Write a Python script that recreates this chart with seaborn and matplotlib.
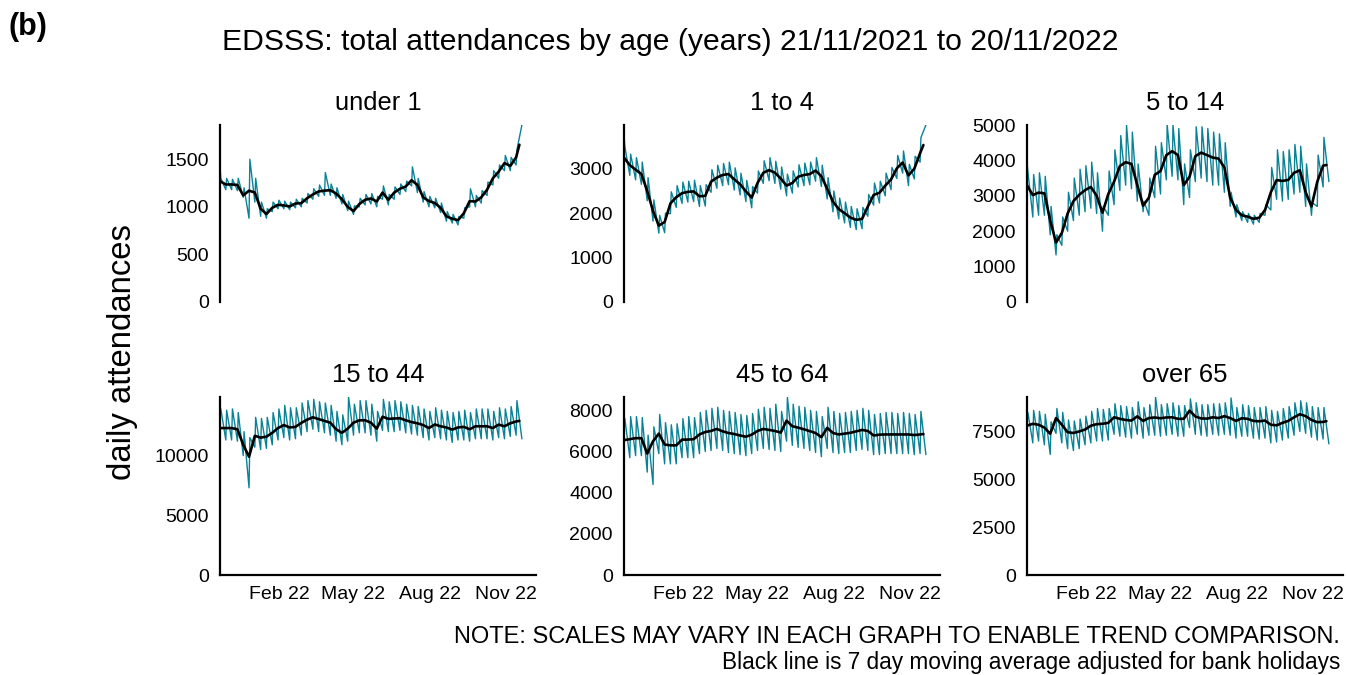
import numpy as np
import pandas as pd
import matplotlib
matplotlib.use("Agg")
import matplotlib.pyplot as plt
import matplotlib.dates as mdates
import seaborn as sns

# ---------------- data ----------------
panel_names = ["under 1", "1 to 4", "5 to 14", "15 to 44", "45 to 64", "over 65"]
start_date = "2021-11-21"
end_date = "2022-11-20"

# 7-day moving average, weekly readings (52 weekly + final point)
u1_avg = [1270, 1235, 1235, 1230, 1120, 1170, 1150, 980, 925, 990,
          1021, 1015, 1004, 1035, 1039, 1090, 1130, 1162, 1170, 1175,
          1140, 1080, 1000, 955, 1030, 1074, 1088, 1056, 1150, 1074,
          1150, 1190, 1214, 1280, 1230, 1100, 1060, 1040, 990, 900,
          875, 860, 933, 1060, 1056, 1100, 1180, 1300, 1370, 1460,
          1430, 1520, 1653]
a1_4_avg = [3250, 3080, 2980, 2880, 2500, 2050, 1720, 1800, 2220, 2360,
            2450, 2480, 2490, 2380, 2390, 2710, 2800, 2860, 2880, 2760,
            2650, 2490, 2350, 2680, 2910, 2970, 2910, 2780, 2620, 2680,
            2820, 2860, 2880, 2960, 2830, 2550, 2260, 2090, 2000, 1900,
            1850, 1870, 2150, 2410, 2460, 2620, 2760, 3010, 3140, 2850,
            3000, 3350, 3535]
a5_14_avg = [3300, 3020, 3090, 3070, 2300, 1680, 1950, 2500, 2850, 3030,
             3160, 3250, 3000, 2520, 3050, 3400, 3840, 3950, 3900, 3300,
             2720, 2950, 3590, 3700, 4150, 4260, 4150, 3300, 3540, 4120,
             4220, 4150, 4080, 4050, 3800, 2950, 2600, 2450, 2410, 2350,
             2380, 2600, 3100, 3445, 3420, 3450, 3650, 3720, 3100, 2700,
             3400, 3850, 3870]
a15_44_avg = [12300, 12300, 12300, 12200, 10900, 9900, 11650, 11500, 11580, 11900,
              12300, 12550, 12350, 12400, 12730, 13000, 13200, 13050, 12900, 12750,
              12200, 11900, 12250, 12750, 12950, 12950, 12750, 12250, 13250, 13070,
              13100, 13120, 12950, 12800, 12700, 12550, 12300, 12600, 12450, 12350,
              12170, 12350, 12400, 12200, 12450, 12450, 12450, 12300, 12590, 12450,
              12700, 12850, 12900]
a45_64_avg = [6550, 6600, 6650, 6650, 5900, 6500, 6870, 6340, 6300, 6300,
              6580, 6580, 6600, 6830, 6950, 7000, 7100, 6980, 6900, 6850,
              6780, 6720, 6820, 7000, 7100, 7050, 7000, 6920, 7500, 7230,
              7160, 7080, 6990, 6900, 6700, 7150, 6900, 6830, 6870, 6910,
              6980, 7050, 7000, 6780, 6820, 6830, 6830, 6830, 6830, 6830,
              6800, 6830, 6850]
o65_avg = [7800, 7900, 7850, 7700, 7380, 8200, 7850, 7460, 7420, 7500,
           7600, 7800, 7880, 7900, 7950, 8240, 8160, 8100, 8070, 8290,
           8050, 8200, 8230, 8190, 8230, 8240, 8160, 8160, 8590, 8280,
           8180, 8170, 8240, 8200, 8300, 8200, 8050, 8190, 8160, 8050,
           8030, 8070, 7850, 7820, 7950, 8050, 8240, 8400, 8300, 8100,
           7984, 8000, 8036]

# daily attendances: Monday readings (52) and Sunday readings (53)
u1_mon = [1300, 1300, 1290, 1300, 1200, 1500, 1300, 1050, 980, 1050,
          1070, 1060, 1050, 1080, 1090, 1140, 1190, 1230, 1360, 1240,
          1200, 1130, 1060, 1010, 1090, 1130, 1140, 1110, 1220, 1130,
          1210, 1240, 1270, 1420, 1300, 1160, 1110, 1090, 1040, 950,
          920, 900, 990, 1190, 1120, 1170, 1260, 1380, 1440, 1540,
          1520, 1600]
u1_sun = [1420, 1180, 1180, 1170, 1100, 880, 1050, 900, 880, 950,
          980, 980, 970, 990, 1000, 1040, 1080, 1110, 1120, 1120,
          1090, 1030, 960, 920, 1000, 1020, 1030, 1000, 1080, 1020,
          1080, 1130, 1160, 1220, 1150, 1050, 1000, 990, 940, 850,
          830, 810, 880, 1000, 1000, 1040, 1120, 1230, 1300, 1380,
          1380, 1440, 1860]
a1_4_mon = [3500, 3330, 3250, 3150, 2800, 2300, 1950, 2000, 2480, 2620,
            2700, 2720, 2740, 2620, 2640, 2980, 3080, 3120, 3150, 3020,
            2900, 2740, 2600, 2950, 3180, 3250, 3170, 3040, 2880, 2950,
            3090, 3130, 3150, 3250, 3080, 2800, 2500, 2340, 2250, 2150,
            2100, 2130, 2420, 2680, 2720, 2900, 3030, 3300, 3400, 3100,
            3280, 3700]
a1_4_sun = [3750, 2850, 2750, 2650, 2280, 1820, 1550, 1560, 1990, 2130,
            2220, 2250, 2260, 2150, 2160, 2470, 2560, 2620, 2640, 2520,
            2410, 2260, 2120, 2450, 2670, 2730, 2670, 2540, 2390, 2450,
            2590, 2620, 2640, 2720, 2600, 2320, 2030, 1870, 1780, 1680,
            1630, 1650, 1930, 2180, 2230, 2390, 2530, 2780, 2900, 2620,
            2770, 3150, 3985]
a5_14_mon = [3700, 3600, 3650, 3550, 2700, 1900, 2400, 3100, 3500, 3750,
             3850, 3950, 3650, 2700, 3700, 4300, 4700, 5000, 4800, 3900,
             2850, 3500, 4400, 4500, 5000, 5000, 4900, 3900, 4300, 4950,
             4950, 4900, 4800, 4750, 4500, 3100, 2750, 2550, 2500, 2450,
             2500, 2750, 3800, 4300, 4250, 4300, 4450, 4400, 3900, 2800,
             4150, 4650]
a5_14_sun = [3950, 2400, 2450, 2450, 1900, 1330, 1600, 2000, 2300, 2450,
             2550, 2650, 2500, 2000, 2450, 2750, 3150, 3300, 3200, 2850,
             2550, 2450, 2950, 3050, 3450, 3550, 3450, 2750, 2950, 3400,
             3500, 3400, 3300, 3300, 3100, 2700, 2400, 2300, 2250, 2200,
             2250, 2450, 2600, 2900, 2850, 2900, 3050, 3100, 2700, 2450,
             2700, 3250, 3400]
a15_44_mon = [13900, 13800, 13900, 13600, 12000, 11500, 13200, 13100, 13200, 13600,
              13900, 14200, 14000, 14000, 14400, 14600, 14700, 14500, 14400, 14200,
              13700, 13400, 14900, 14300, 14600, 14600, 14300, 13700, 14700, 14500,
              14600, 14500, 14300, 14200, 14100, 13900, 13700, 14000, 13800, 13700,
              13600, 13700, 13800, 13600, 13900, 13900, 13900, 13700, 14000, 13900,
              14100, 14600]
a15_44_sun = [14000, 11300, 11300, 11200, 10000, 7300, 10700, 10500, 10600, 10900,
              11300, 11500, 11300, 11400, 11700, 12000, 12200, 12000, 11900, 11700,
              11200, 10900, 11200, 11700, 11900, 11900, 11700, 11200, 12100, 12000,
              12000, 12100, 11900, 11800, 11700, 11500, 11300, 11500, 11400, 11300,
              11100, 11300, 11300, 11200, 11400, 11400, 11400, 11300, 11500, 11400,
              11600, 11700, 11400]
a45_64_mon = [7600, 7700, 7700, 7650, 6800, 7200, 7800, 7400, 7300, 7350,
              7600, 7700, 7650, 7900, 8000, 8100, 8150, 8000, 7950, 7900,
              7800, 7750, 7850, 8050, 8150, 8100, 8300, 7950, 8650, 8300,
              8200, 8150, 8000, 7950, 7700, 8150, 7950, 7850, 7900, 7950,
              8000, 8100, 8000, 7800, 7850, 7900, 7900, 7850, 7900, 7850,
              7800, 7950]
a45_64_sun = [7550, 5700, 5800, 5800, 5000, 4400, 5900, 5400, 5400, 5400,
              5700, 5700, 5700, 5900, 6000, 6050, 6150, 6050, 5950, 5900,
              5850, 5800, 5900, 6050, 6150, 6100, 6050, 6000, 6500, 6300,
              6200, 6150, 6050, 5950, 5750, 6150, 5950, 5900, 5950, 5950,
              6050, 6100, 6050, 5850, 5850, 5900, 5900, 5900, 5900, 5900,
              5850, 5900, 5850]
o65_mon = [8500, 8600, 8550, 8400, 8000, 8700, 8500, 8100, 8050, 8150,
           8300, 8550, 8700, 8650, 8700, 8950, 8850, 8800, 8750, 9050,
           8750, 8900, 9300, 8900, 8950, 9000, 8850, 8850, 9200, 9000,
           8900, 8900, 8950, 8950, 9000, 9250, 8750, 8900, 8850, 8750,
           8750, 8800, 8600, 8550, 8700, 8800, 9000, 9100, 9000, 8800,
           8750, 8750]
o65_sun = [7700, 6900, 7000, 6800, 6300, 7400, 6900, 6600, 6500, 6600,
           6800, 6900, 7000, 7000, 7050, 7350, 7250, 7200, 7150, 7350,
           7150, 7300, 7300, 7250, 7300, 7350, 7250, 7250, 7700, 7350,
           7300, 7250, 7350, 7300, 7350, 7300, 7150, 7250, 7250, 7150,
           7100, 7150, 6900, 6950, 7050, 7150, 7300, 7500, 7400, 7200,
           7050, 7100, 6850]

y_ticks = [[0, 500, 1000, 1500],
           [0, 1000, 2000, 3000],
           [0, 1000, 2000, 3000, 4000, 5000],
           [0, 5000, 10000],
           [0, 2000, 4000, 6000, 8000],
           [0, 2500, 5000, 7500]]

title_text = "EDSSS: total attendances by age (years) 21/11/2021 to 20/11/2022"
note1 = "NOTE: SCALES MAY VARY IN EACH GRAPH TO ENABLE TREND COMPARISON."
note2 = "Black line is 7 day moving average adjusted for bank holidays"

# ---------------- build tables ----------------
start = pd.Timestamp(start_date)
avg_dates = [start + pd.Timedelta(days=7 * k) for k in range(52)] + [pd.Timestamp("2022-11-17")]
sun_dates = [start + pd.Timedelta(days=7 * k) for k in range(53)]
mon_dates = [start + pd.Timedelta(days=7 * k + 1) for k in range(52)]

avgs = [u1_avg, a1_4_avg, a5_14_avg, a15_44_avg, a45_64_avg, o65_avg]
mons = [u1_mon, a1_4_mon, a5_14_mon, a15_44_mon, a45_64_mon, o65_mon]
suns = [u1_sun, a1_4_sun, a5_14_sun, a15_44_sun, a45_64_sun, o65_sun]

# ---------------- style ----------------
sns.set_style("white")
plt.rcParams['font.family'] = ['Liberation Sans', 'DejaVu Sans']
plt.rcParams['text.color'] = 'black'
plt.rcParams['axes.labelcolor'] = 'black'
plt.rcParams['axes.titlecolor'] = 'black'

W, H = 1346, 675
fig = plt.figure(figsize=(W / 100, H / 100), dpi=100)

lefts = [220, 624, 1027]
tops = [125, 397]
bottoms = [302, 575]
pw = 316
teal = "#0a8296"

for i, name in enumerate(panel_names):
    r, c = divmod(i, 3)
    ax = fig.add_axes([lefts[c] / W, (H - bottoms[r]) / H, pw / W, (bottoms[r] - tops[r]) / H])
    daily = pd.DataFrame({"date": sun_dates + mon_dates, "value": suns[i] + mons[i]}).sort_values("date")
    avg = pd.DataFrame({"date": avg_dates, "value": avgs[i]})
    sns.lineplot(data=daily, x="date", y="value", color=teal, linewidth=1.0, ax=ax)
    sns.lineplot(data=avg, x="date", y="value", color="black", linewidth=1.9, ax=ax)
    ymax = max(max(suns[i]), max(mons[i]))
    ax.set_ylim(0, ymax)
    ax.set_yticks(y_ticks[i])
    ax.set_xlim(start, pd.Timestamp("2022-12-07"))
    ax.xaxis.set_major_locator(mdates.MonthLocator(bymonth=[2, 5, 8, 11]))
    ax.xaxis.set_major_formatter(mdates.DateFormatter("%b %y"))
    ax.set_xlabel("")
    ax.set_ylabel("")
    for s in ["top", "right"]:
        ax.spines[s].set_visible(False)
    ax.spines["left"].set_linewidth(1.6)
    ax.spines["left"].set_color("black")
    ax.tick_params(axis="both", length=5, width=1.4, color="#333333",
                   labelsize=14, labelcolor="black", pad=3, direction="out")
    if r == 0:
        ax.spines["bottom"].set_visible(False)
        ax.tick_params(axis="x", bottom=False, labelbottom=False)
    else:
        ax.spines["bottom"].set_linewidth(1.6)
        ax.spines["bottom"].set_color("black")
    ax.set_title(name, fontsize=18.4, pad=11, color="black")

fig.text(8 / W, 1 - 27 / H, "(b)", fontsize=22, fontweight="bold", ha="left", va="center", color="black")
fig.text(670 / W, 1 - 42 / H, title_text, fontsize=21.7, ha="center", va="center", color="black")
fig.text(122 / W, 1 - 352 / H, "daily attendances", rotation=90, fontsize=23.7, ha="center", va="center", color="black")
fig.text(1340 / W, 1 - 637 / H, note1, fontsize=17, ha="right", va="center", color="black")
fig.text(1340 / W, 1 - 662 / H, note2, fontsize=16.3, ha="right", va="center", color="black")

fig.savefig("out.png", dpi=100)
